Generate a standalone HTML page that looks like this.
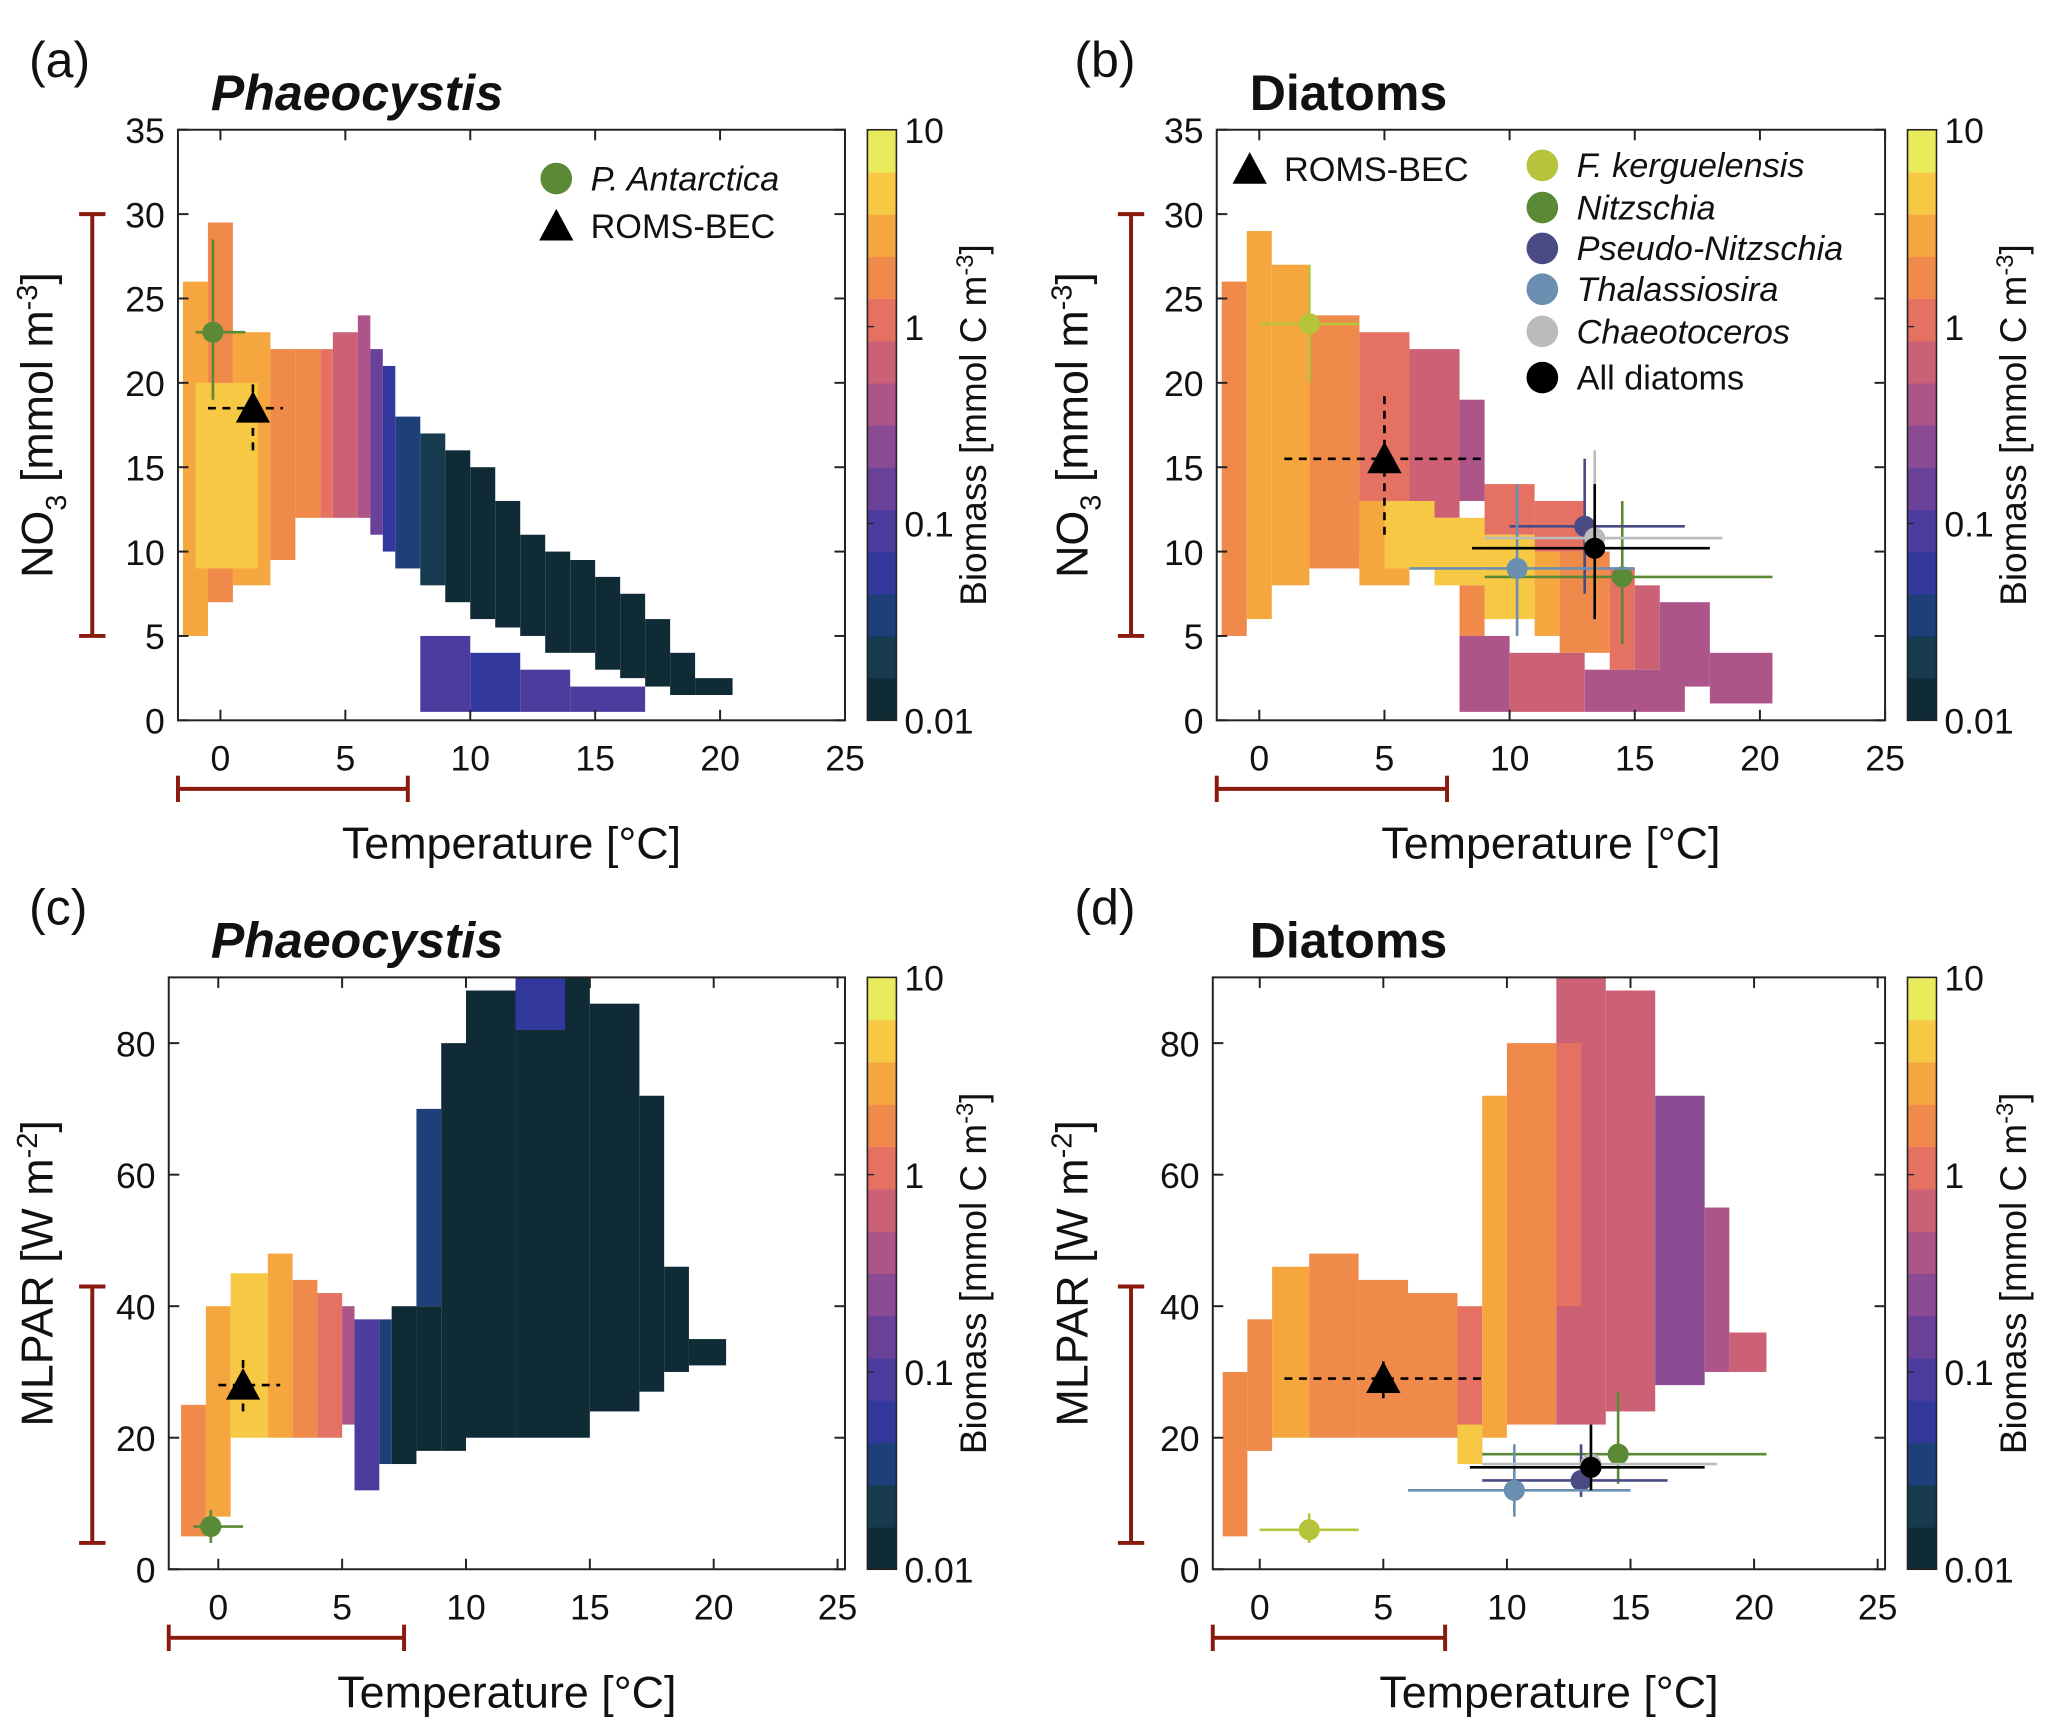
<!DOCTYPE html>
<html><head><meta charset="utf-8"><style>
html,body{margin:0;padding:0;background:#fff}
svg{display:block}
text{font-family:"Liberation Sans",sans-serif;fill:#111}
</style></head><body>
<svg id="fig" width="2067" height="1728" viewBox="0 0 1568 1310" xmlns="http://www.w3.org/2000/svg"></svg>
<script>
// ---------- data ----------
const levelColors = ["#0f2b36","#163a4e","#1d3f7a","#33389c","#4c3c9d","#6a4199","#8b4a94","#ad5489","#cc6176","#e47162","#f08a4b","#f5a63e","#f7c843","#eaeb5c"];
const cbLabels = ["10","1","0.1","0.01"];
const xTicks = [0,5,10,15,20,25];
const yTicksNO3 = [0,5,10,15,20,25,30,35];
const yTicksPAR = [0,20,40,60,80];
// heatmap blocks: [tStart, tEnd, yLow, yHigh, level]
const heatA = [
 [-1.5,-0.5,5,26,11],[-0.5,0.5,7,29.5,10],[0.5,2,8,23,11],[-1,1.5,9,20,12],[2,3,9.5,22,10],[3,4,12,22,10],
 [4,4.5,12,22,9],[4.5,5.5,12,23,8],[5.5,6,12,24,7],[6,6.5,11,22,5],[6.5,7,10,21,3],[7,8,9,18,2],
 [8,9,8,17,1],[9,10,7,16,0],[10,11,6,15,0],[11,12,5.5,13,0],[12,13,5,11,0],[13,14,4,10,0],[14,15,4,9.5,0],
 [15,16,3,8.5,0],[16,17,2.5,7.5,0],[17,18,2,6,0],[18,19,1.5,4,0],[19,20.5,1.5,2.5,0],
 [8,10,0.5,5,4],[10,12,0.5,4,3],[12,14,0.5,3,4],[14,17,0.5,2,4]];
const heatB = [
 [-1.5,-0.5,5,26,10],[-0.5,0.5,6,29,11],[0.5,2,8,27,11],[2,4,9,24,10],[4,6,10,23,9],[6,8,12,22,8],[8,9,13,19,7],
 [4,6,8,13,11],[5,7,9,13,12],[7,9,8,12,12],[9,11,6,11,12],[11,12,5,10,11],
 [8,9,5,8,10],[9,11,11,14,9],[11,13,10,13,9],[12,14,4,10,10],[14,15,3,9,9],[15,16,3,8,8],[16,18,2,7,7],[18,20.5,1,4,7],
 [8,10,0.5,5,7],[10,13,0.5,4,8],[13,17,0.5,3,7]];
const heatC = [
 [-1.5,-0.5,5,25,10],[-0.5,0.5,8,40,11],[0.5,2,20,45,12],[2,3,20,48,11],[3,4,20,44,10],[4,5,20,42,9],[5,5.5,22,40,7],
 [5.5,6.5,12,38,4],[6.5,7,16,38,2],[7,8,16,40,0],[8,9,40,70,2],[8,9,18,40,0],[9,10,18,80,0],[10,12,20,88,0],
 [12,15,20,90,0],[12,14,82,90,3],[15,17,24,86,0],[17,18,27,72,0],[18,19,30,46,0],[19,20.5,31,35,0]];
const heatD = [
 [-1.5,-0.5,5,30,10],[-0.5,0.5,18,38,10],[0.5,2,20,46,11],[2,4,20,48,10],[4,6,20,44,10],[6,8,20,42,10],[8,9,16,40,9],
 [8,9,16,22,12],[9,10,20,72,11],[10,12,22,80,10],[12,14,22,90,8],[14,16,24,88,8],[16,18,28,72,6],[18,19,30,55,7],[19,20.5,30,36,8],[12,13,40,80,9]];
// points: [x, y, xlo, xhi, ylo, yhi, color, shape]
const ptsA = [[-0.3,23,-1,1,19,28.5,"#5a8a35","c"],[1.3,18.5,-0.5,2.5,16,20,"#000","t"]];
const ptsB = [[5,15.5,1,9,11,19.5,"#000","t"],[2,23.5,0,4,20,27,"#b5c43a","c"],[14.5,8.5,9,20.5,4.5,13,"#5a8a35","c"],
 [13,11.5,10,17,7.5,15.5,"#4a4a85","c"],[10.3,9,6,15,5,14,"#6b8fb0","c"],[13.4,10.8,9,18.5,7,16,"#bbbbbb","c"],[13.4,10.2,8.5,18,6,14,"#000","c"]];
const ptsC = [[-0.3,6.5,-1,1,4,9,"#5a8a35","c"],[1,28,0,2.5,24,32,"#000","t"]];
const ptsD = [[5,29,1,9,26,32,"#000","t"],[2,6,0,4,4,8.5,"#b5c43a","c"],[14.5,17.5,9,20.5,13,27,"#5a8a35","c"],
 [13,13.5,9,16.5,11,19,"#4a4a85","c"],[10.3,12,6,15,8,19,"#6b8fb0","c"],[13.4,16,9,18.5,12,22,"#bbbbbb","c"],[13.4,15.5,8.5,18,12,22,"#000","c"]];

// ---------- drawing ----------
const NS="http://www.w3.org/2000/svg";
const svg=document.getElementById('fig');
function el(tag,attrs,parent){const e=document.createElementNS(NS,tag);for(const k in attrs)e.setAttribute(k,attrs[k]);(parent||svg).appendChild(e);return e;}
function txt(s,x,y,size,anchor,parent,extra){const t=el('text',Object.assign({x:x,y:y,'font-size':size,'text-anchor':anchor||'middle'},extra||{}),parent);t.textContent=s;return t;}

function panel(cfg){
 const g=el('g',{});
 
 
 const {L,R,T,B,x0,x1,y0,y1}=cfg;
 const sx=v=>L+(v-x0)/(x1-x0)*(R-L);
 const sy=v=>B-(v-y0)/(y1-y0)*(B-T);
 cfg.heat.forEach(h=>{
  const r=el('rect',{x:sx(h[0]),y:sy(h[3]),width:sx(h[1])-sx(h[0]),height:sy(h[2])-sy(h[3]),fill:levelColors[h[4]]},g);
  
  
 });
 const frame=el('rect',{x:L,y:T,width:R-L,height:B-T,fill:'none',stroke:'#222','stroke-width':1.5},g);
 
 
 xTicks.forEach(v=>{el('line',{x1:sx(v),x2:sx(v),y1:B,y2:B-8,stroke:'#222','stroke-width':1.5},g);el('line',{x1:sx(v),x2:sx(v),y1:T,y2:T+8,stroke:'#222','stroke-width':1.5},g);
  const t=txt(String(v),sx(v),B+38,27,'middle',g);});
 cfg.yticks.forEach(v=>{el('line',{x1:L,x2:L+8,y1:sy(v),y2:sy(v),stroke:'#222','stroke-width':1.5},g);el('line',{x1:R,x2:R-8,y1:sy(v),y2:sy(v),stroke:'#222','stroke-width':1.5},g);
  const t=txt(String(v),L-10,sy(v)+10,27,'end',g);});
 cfg.pts.forEach(p=>{
  const dash=p[7]==='t'?'6,5':'none';
  el('line',{x1:sx(p[2]),x2:sx(p[3]),y1:sy(p[1]),y2:sy(p[1]),stroke:p[6],'stroke-width':2,'stroke-dasharray':dash},g);
  el('line',{x1:sx(p[0]),x2:sx(p[0]),y1:sy(p[4]),y2:sy(p[5]),stroke:p[6],'stroke-width':2,'stroke-dasharray':dash},g);
  let m;
  if(p[7]==='t'){const cx=sx(p[0]),cy=sy(p[1]);m=el('polygon',{points:`${cx-13},${cy+11} ${cx+13},${cy+11} ${cx},${cy-13}`,fill:'#000'},g);}
  else {m=el('circle',{cx:sx(p[0]),cy:sy(p[1]),r:8,fill:p[6]},g);}
  
 });
 const cbx=cfg.cbx,cw=22,n=levelColors.length;
 for(let i=0;i<n;i++){el('rect',{x:cbx,y:B-(i+1)*(B-T)/n,width:cw,height:(B-T)/n+0.5,fill:levelColors[i]},g);}
 el('rect',{x:cbx,y:T,width:cw,height:B-T,fill:'none',stroke:'#222','stroke-width':1.2},g);
 cbLabels.forEach((s,i)=>{const y=T+i*(B-T)/3;el('line',{x1:cbx,x2:cbx+5,y1:y,y2:y,stroke:'#222'},g);
  const t=txt(s,cbx+cw+6,y+10,27,'start',g);});
 const ct=txt('',0,0,28,'middle',g,{transform:`translate(${cbx+cw+68},${(T+B)/2}) rotate(-90)`});
 ct.innerHTML='Biomass [mmol C m<tspan dy="-10" font-size="18">-3</tspan><tspan dy="10">]</tspan>';
 
 const xt=txt('Temperature [°C]',(L+R)/2+(cfg.xtOff||0),B+105,34,'middle',g);
 const yt=txt('',0,0,34,'middle',g,{transform:`translate(${cfg.ytx},${(T+B)/2}) rotate(-90)`});yt.innerHTML=cfg.ylab;
 
 const pl=txt(cfg.letter,cfg.lx,T-40,38,'start',g);
 const ti=txt(cfg.title,cfg.tx,T-15,38,'start',g,{'font-weight':'bold','font-style':cfg.italic?'italic':'normal'});
 const rb='#8b1a0e';
 el('line',{x1:cfg.rbx,x2:cfg.rbx,y1:sy(cfg.rby[0]),y2:sy(cfg.rby[1]),stroke:rb,'stroke-width':3},g);
 el('line',{x1:cfg.rbx-10,x2:cfg.rbx+10,y1:sy(cfg.rby[0]),y2:sy(cfg.rby[0]),stroke:rb,'stroke-width':3},g);
 el('line',{x1:cfg.rbx-10,x2:cfg.rbx+10,y1:sy(cfg.rby[1]),y2:sy(cfg.rby[1]),stroke:rb,'stroke-width':3},g);
 const hy=B+52;
 el('line',{x1:L,x2:sx(7.5),y1:hy,y2:hy,stroke:rb,'stroke-width':3},g);
 el('line',{x1:L,x2:L,y1:hy-10,y2:hy+10,stroke:rb,'stroke-width':3},g);
 el('line',{x1:sx(7.5),x2:sx(7.5),y1:hy-10,y2:hy+10,stroke:rb,'stroke-width':3},g);
 return g;
}
const no3lab='NO<tspan dy="10" font-size="22">3</tspan><tspan dy="-10"> [mmol m</tspan><tspan dy="-12" font-size="22">-3</tspan><tspan dy="12">]</tspan>';
const parlab='MLPAR [W m<tspan dy="-12" font-size="22">-2</tspan><tspan dy="12">]</tspan>';
panel({name:'panel-a',L:135,R:641,T:98,B:546,x0:-1.7,x1:25,y0:0,y1:35,heat:heatA,pts:ptsA,yticks:yTicksNO3,cbx:658,ytx:40,ylab:no3lab,letter:'(a)',lx:22,title:'Phaeocystis',italic:true,tx:160,rbx:70,rby:[5,30]});
panel({name:'panel-b',L:923,R:1430,T:98,B:546,x0:-1.7,x1:25,y0:0,y1:35,heat:heatB,pts:ptsB,yticks:yTicksNO3,cbx:1447,ytx:825,ylab:no3lab,letter:'(b)',lx:815,title:'Diatoms',italic:false,tx:948,rbx:858,rby:[5,30]});
panel({name:'panel-c',L:128,R:641,T:741,B:1190,x0:-2,x1:25.3,y0:0,y1:90,heat:heatC,pts:ptsC,yticks:yTicksPAR,cbx:658,ytx:40,ylab:parlab,letter:'(c)',lx:22,title:'Phaeocystis',italic:true,tx:160,rbx:70,rby:[4,43]});
panel({name:'panel-d',L:920,R:1430,T:741,B:1190,x0:-1.9,x1:25.3,y0:0,y1:90,heat:heatD,pts:ptsD,yticks:yTicksPAR,cbx:1447,ytx:825,ylab:parlab,letter:'(d)',lx:815,title:'Diatoms',italic:false,tx:948,rbx:858,rby:[4,43]});

function legend(items,name){const g=el('g',{});
 items.forEach(it=>{let m;
  if(it[3]==='t'){m=el('polygon',{points:`${it[0]-13},${it[1]+11} ${it[0]+13},${it[1]+11} ${it[0]},${it[1]-13}`,fill:'#000'},g);}
  else m=el('circle',{cx:it[0],cy:it[1],r:12,fill:it[2]},g);
  
  const t=txt(it[4],it[0]+26,it[1]+9,26,'start',g,{'font-style':it[5]?'italic':'normal'});
  });}
legend([[422,135,'#5a8a35','c','P. Antarctica',true],[422,171,'#000','t','ROMS-BEC',false]],'legend-a');
legend([[948,128,'#000','t','ROMS-BEC',false],[1170,125,'#b5c43a','c','F. kerguelensis',true],[1170,157,'#5a8a35','c','Nitzschia',true],
 [1170,188,'#4a4a85','c','Pseudo-Nitzschia',true],[1170,219,'#6b8fb0','c','Thalassiosira',true],[1170,251,'#bbbbbb','c','Chaeotoceros',true],[1170,286,'#000','c','All diatoms',false]],'legend-b');
</script>
</body></html>
